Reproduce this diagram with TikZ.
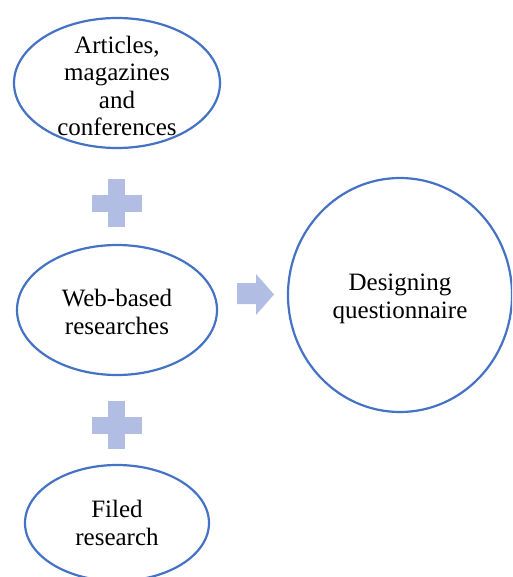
\documentclass[tikz,border=0pt]{standalone}
\usepackage{fontspec}
\setmainfont{Liberation Serif}
\definecolor{ringblue}{HTML}{4472C4}
\definecolor{signblue}{HTML}{B1BDE3}
\tikzset{
  ring/.style={draw=ringblue,line width=2.2pt},
  sign/.style={fill=signblue,draw=none},
  label/.style={align=center,font=\fontsize{25}{27.3}\selectfont,inner sep=0pt}
}
\begin{document}
\begin{tikzpicture}[x=1pt,y=-1pt]
  \useasboundingbox (0,0) rectangle (512,577);
  \clip (0,0) rectangle (512,577);
  % the three sources
  \draw[ring] (117,83) ellipse [x radius=103pt, y radius=65pt];
  \node[label] (articles) at (117,86) {Articles,\\magazines\\and\\conferences};
  \draw[ring] (117,310) ellipse [x radius=100pt, y radius=65pt];
  \node[label] (web) at (117,312) {Web-based\\researches};
  \draw[ring] (117,523) ellipse [x radius=92pt, y radius=58pt];
  \node[label] (filed) at (117,523) {Filed\\research};
  % the result
  \draw[ring] (400,295) ellipse [x radius=112pt, y radius=117pt];
  \node[label] (design) at (400,299) {Designing\\questionnaire};
  % plus signs
  \foreach \cy in {203,425} {
    \fill[sign] (108,\cy-24) rectangle (125,\cy+24);
    \fill[sign] (92,\cy-8) rectangle (142,\cy+9);
  }
  % arrow
  \fill[sign] (237,283) -- (256,283) -- (256,274) -- (274,294.5)
    -- (256,315) -- (256,304) -- (237,304) -- cycle;
\end{tikzpicture}
\end{document}
